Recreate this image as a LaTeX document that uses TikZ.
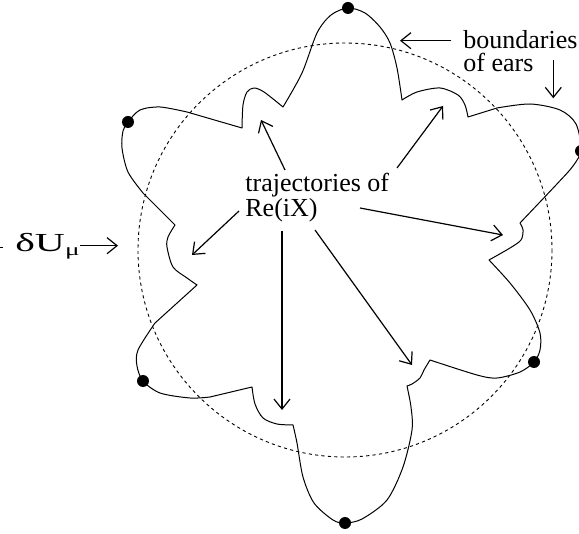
\documentclass[tikz,border=0pt]{standalone}
\usepackage{fontspec}
\setmainfont{Liberation Serif}
\usetikzlibrary{arrows.meta}
\begin{document}
\begin{tikzpicture}[x=0.5pt,y=-0.5pt,
  ear/.style={line width=0.5pt, line join=round},
  guide/.style={line width=0.45pt, dash pattern=on 1.6pt off 1.6pt},
  arr/.style={line width=0.6pt, -{Straight Barb[length=5pt,width=8pt]}},
  dot/.style={circle, fill=black, inner sep=0pt, minimum size=6pt},
  lbl/.style={font=\fontsize{13}{13}\selectfont, inner sep=0pt, anchor=base west}]
\useasboundingbox (0,0) rectangle (579,534);
\begin{scope}
\clip (0,0) rectangle (579,534);
\draw[guide] (345,250) circle[radius=207];
\draw[ear]
  plot[smooth] coordinates {(283,107) (302,73) (317,33) (331,15) (348,8) (365,13) (380,27) (390,43) (397,68) (402,100)}
  -- plot[smooth] coordinates {(402,100) (417,92) (440,88) (458,95) (465,105) (468,117)}
  -- (497,108)
  -- plot[smooth] coordinates {(497,108) (530,104) (560,110) (576,124) (581,150) (573,166) (556,185) (520,223)}
  -- plot[smooth] coordinates {(520,223) (523,230) (521,240) (510,248) (489,260)}
  -- plot[smooth] coordinates {(489,260) (510,283) (530,310) (540,333) (540,350) (534,362) (520,372) (497,378) (477,375) (430,360)}
  -- plot[smooth] coordinates {(430,360) (424,370) (420,378) (412,384) (407,386)}
  -- plot[smooth] coordinates {(407,386) (411,407) (412,430) (403,467) (387,500) (362,519) (345,523) (333,520) (314,503) (303,477) (297,443) (293,425)}
  -- plot[smooth] coordinates {(293,425) (277,424) (263,418) (255,404) (252,387)}
  -- (210,397)
  -- plot[smooth] coordinates {(210,397) (190,398) (160,393) (143,381) (137,366) (138,350) (155,323)}
  -- (197,285)
  -- plot[smooth] coordinates {(197,285) (187,278) (173,267) (167,247) (168,237) (175,225)}
  -- (143,193)
  -- plot[smooth] coordinates {(143,193) (128,172) (122,148) (123,131) (128,122) (140,110) (160,107) (187,112)}
  -- (242,128)
  -- plot[smooth] coordinates {(242,128) (243,105) (247,92) (254,88) (264,92) (283,107)}
  -- cycle;
\node[dot] (dT) at (348,8) {};
\node[dot] (dR1) at (581,151) {};
\node[dot] (dR2) at (534,362) {};
\node[dot] (dB) at (345,523) {};
\node[dot] (dL2) at (143,381) {};
\node[dot] (dL1) at (128,122) {};
\end{scope}
% labels
\node[lbl] (bd1) at (463,48.3) {boundaries};
\node[lbl] (bd2) at (463,71.7) {of ears};
\node[lbl] (tr1) at (245,191.7) {trajectories of};
\node[lbl] (tr2) at (245,216.7) {Re(iX)};
\node[inner sep=0pt, anchor=base west, font=\fontsize{13}{13}\selectfont] (du) at (15,251.7)
  {\scalebox{1.6}[1]{δU\raisebox{-2pt}{\fontsize{8.5}{8.5}\selectfont μ}}};
% arrow ends
\coordinate (bdS) at (451,40.7);
\coordinate (bdE) at (400,40.7);
\coordinate (edS) at (553.3,60);
\coordinate (edE) at (553.3,98.3);
\coordinate (duS) at (80,245.7);
\coordinate (duE) at (118,245.7);
\coordinate (t1S) at (285,170);
\coordinate (t1E) at (261,120);
\coordinate (t2S) at (397,168);
\coordinate (t2E) at (443,106);
\coordinate (t3S) at (360,208);
\coordinate (t3E) at (503,235);
\coordinate (t4S) at (315,230);
\coordinate (t4E) at (412,365);
\coordinate (t5S) at (282,231);
\coordinate (t5E) at (282,410);
\coordinate (t6S) at (239,211);
\coordinate (t6E) at (192,255);
\coordinate (mk1) at (0,247);
\coordinate (mk2) at (3,247);
\draw[arr] (bdS) -- (bdE);
\draw[arr] (edS) -- (edE);
\draw[arr] (duS) -- (duE);
\draw[arr] (t1S) -- (t1E);
\draw[arr] (t2S) -- (t2E);
\draw[arr] (t3S) -- (t3E);
\draw[arr] (t4S) -- (t4E);
\draw[arr] (t5S) -- (t5E);
\draw[arr] (t6S) -- (t6E);
\draw[line width=0.4pt] (mk1) -- (mk2);
\end{tikzpicture}
\end{document}
